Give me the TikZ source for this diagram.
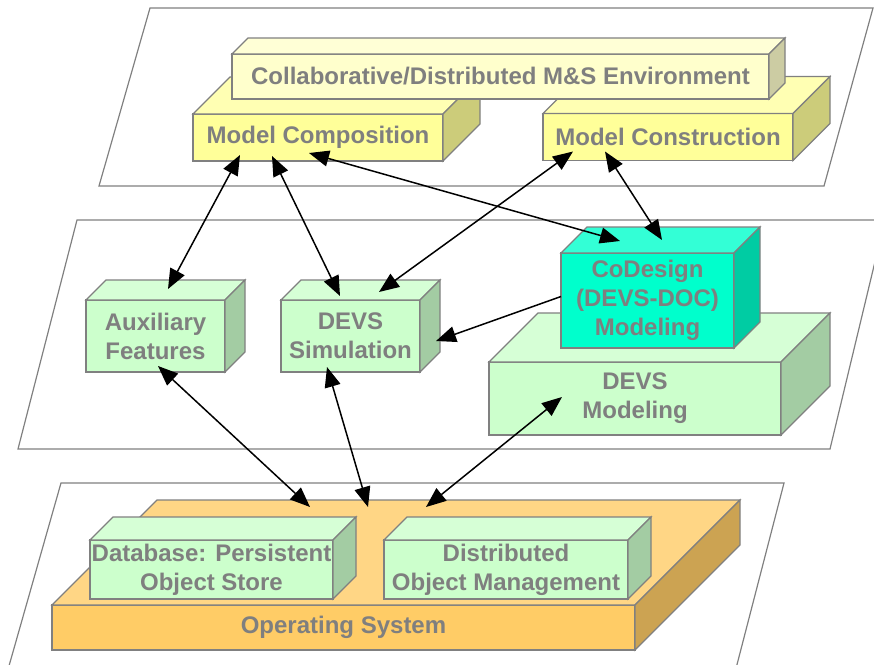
\documentclass[tikz,border=0pt]{standalone}
\usepackage{fontspec}
\setmainfont{Liberation Sans}
\usepackage{tikz}
\usetikzlibrary{arrows.meta,calc}
\usepackage{xcolor}

\definecolor{linegrey}{HTML}{808080}
\definecolor{textgrey}{HTML}{7F7F7F}
\definecolor{yelfront}{HTML}{FFFF99}
\definecolor{yeltop}{HTML}{FFFFB3}
\definecolor{yelside}{HTML}{CCCC7A}
\definecolor{envfront}{HTML}{FFFFCC}
\definecolor{envtop}{HTML}{FFFFD6}
\definecolor{envside}{HTML}{CCCCA3}
\definecolor{grnfront}{HTML}{CCFFCC}
\definecolor{grntop}{HTML}{D6FFD6}
\definecolor{grnside}{HTML}{A3CCA3}
\definecolor{cyanfront}{HTML}{00FFCC}
\definecolor{cyantop}{HTML}{33FFD6}
\definecolor{cyanside}{HTML}{00CCA3}
\definecolor{osfront}{HTML}{FFCC66}
\definecolor{ostop}{HTML}{FFD685}
\definecolor{osside}{HTML}{CCA352}

% top and right faces of a box whose front is the node #1
\newcommand{\cubefaces}[4]{%
  \draw[face, fill=#3] (#1.north west) -- ++(#2,-#2) -- ($(#1.north east)+(#2,-#2)$) -- (#1.north east) -- cycle;
  \draw[face, fill=#4] (#1.north east) -- ($(#1.north east)+(#2,-#2)$) -- ($(#1.south east)+(#2,-#2)$) -- (#1.south east) -- cycle;
}

\begin{document}
\begin{tikzpicture}[
    x=1pt, y=-1pt,
    plane/.style={draw=linegrey, line width=1.2pt},
    face/.style={draw=linegrey, line width=1.2pt},
    cube/.style={rectangle, draw=linegrey, line width=1.2pt, fill=#1, text=textgrey,
      font=\fontsize{24}{29}\selectfont\bfseries, align=center, inner sep=0pt, outer sep=0pt},
    arrow/.style={{Triangle[length=20pt,width=16pt]}-{Triangle[length=20pt,width=16pt]}, line width=1.5pt},
    onearrow/.style={-{Triangle[length=20pt,width=16pt]}, line width=1.5pt}
]
\useasboundingbox (0,0) rectangle (874,664);
\clip (0,0) rectangle (874,664);

% planes
\draw[plane] (150,8) -- (873,8) -- (824,186) -- (99,186) -- cycle;
\draw[plane] (77,220) -- (885,220) -- (830,449) -- (18,449) -- cycle;
\draw[plane] (61,483) -- (784,483) -- (733,680) -- (5,680) -- cycle;

% top layer
\node[cube=yelfront, minimum width=250pt, minimum height=47pt] (comp) at (318,137.5) {Model Composition};
\cubefaces{comp}{37}{yeltop}{yelside}
\node[cube=yelfront, minimum width=250pt, minimum height=47pt] (cons) at (668,137) {Model Construction};
\cubefaces{cons}{37}{yeltop}{yelside}
\node[cube=envfront, minimum width=537pt, minimum height=45pt] (collab) at (500.5,76.5) {Collaborative/Distributed M\&S Environment};
\cubefaces{collab}{16}{envtop}{envside}

% middle layer
\node[cube=grnfront, minimum width=139pt, minimum height=72pt] (aux) at (155.5,336) {Auxiliary\\Features};
\cubefaces{aux}{20}{grntop}{grnside}
\node[cube=grnfront, minimum width=139pt, minimum height=72pt] (sim) at (350.5,336) {DEVS\\Simulation};
\cubefaces{sim}{20}{grntop}{grnside}
\node[cube=grnfront, minimum width=292pt, minimum height=73pt] (dmod) at (635,398.5) {DEVS\\Modeling};
\cubefaces{dmod}{49}{grntop}{grnside}
\node[cube=cyanfront, minimum width=173pt, minimum height=95pt] (codes) at (647.5,300.5) {CoDesign\\(DEVS-DOC)\\Modeling};
\cubefaces{codes}{26}{cyantop}{cyanside}

% bottom layer
\node[cube=osfront, minimum width=583pt, minimum height=45pt] (os) at (343.5,627.5) {Operating System};
\cubefaces{os}{105}{ostop}{osside}
\node[cube=grnfront, minimum width=243pt, minimum height=59pt] (db) at (211.5,569.5) {Database: Persistent\\Object Store};
\cubefaces{db}{23}{grntop}{grnside}
\node[cube=grnfront, minimum width=244pt, minimum height=59pt] (dist) at (506,569.5) {Distributed\\Object Management};
\cubefaces{dist}{23}{grntop}{grnside}

% connectors
\draw[arrow] ($(comp.south west)+(47,-6)$) -- ($(aux.north west)+(82,-11)$);
\draw[arrow] ($(comp.south west)+(79,-5)$) -- ($(sim.north west)+(59,-4)$);
\draw[arrow] ($(comp.south west)+(116,-8)$) -- ($(codes.north west)+(59,-12)$);
\draw[arrow] ($(cons.south west)+(30,-9)$) -- ($(sim.north west)+(98,-8)$);
\draw[arrow] ($(cons.south west)+(62,-9)$) -- ($(codes.north west)+(101,-13)$);
\draw[onearrow] ($(codes.west)+(0,-4)$) -- ($(sim.east)+(16,5)$);
\draw[arrow] ($(aux.south west)+(72,-6)$) -- ($(os.north west)+(258,-98)$);
\draw[arrow] ($(sim.south west)+(46,-5)$) -- ($(os.north west)+(316,-98)$);
\draw[arrow] ($(dmod.west)+(73,-1.5)$) -- ($(os.north west)+(374,-98)$);
\end{tikzpicture}
\end{document}
